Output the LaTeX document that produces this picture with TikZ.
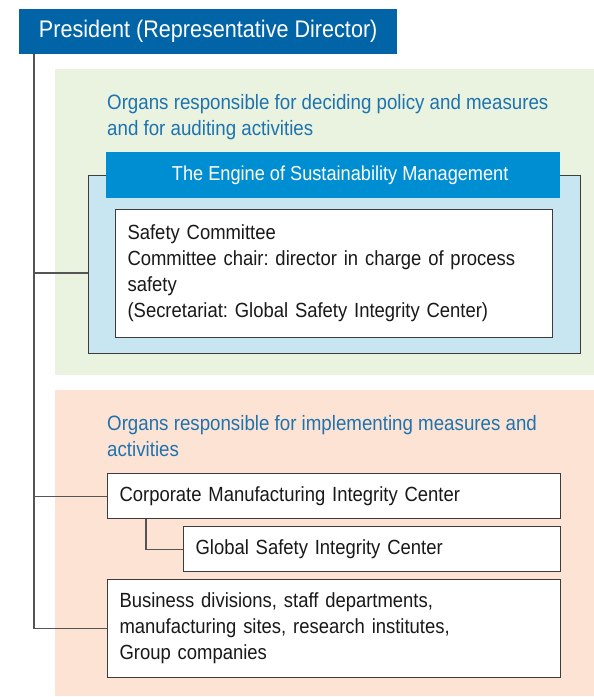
\documentclass[tikz,border=0pt]{standalone}
\usepackage{fontspec}
\setmainfont[FakeStretch=0.9]{Liberation Sans}
\usepackage{tikz}
\definecolor{presblue}{RGB}{0,100,166}
\definecolor{engblue}{RGB}{0,142,210}
\definecolor{framefill}{RGB}{200,230,242}
\definecolor{policyfill}{RGB}{233,243,223}
\definecolor{implfill}{RGB}{253,227,211}
\definecolor{headtext}{RGB}{30,115,175}
\definecolor{boxline}{RGB}{60,60,60}
\definecolor{linkgray}{RGB}{85,85,85}
\frenchspacing

\begin{document}
\begin{tikzpicture}[x=1pt, y=-1pt,
      pnl/.style={minimum width=539pt, minimum height=306pt,
                  inner sep=0pt, anchor=north west},
      box/.style={draw=boxline, line width=1.1pt, fill=white,
                  inner xsep=12pt, inner ysep=0pt, anchor=north west,
                  align=left, text=black!90,
                  font=\fontsize{20.5}{26}\selectfont},
      hdr/.style={inner sep=0pt, anchor=base west, align=left,
                  text=headtext, font=\fontsize{20.8}{26}\selectfont},
      link/.style={draw=linkgray, line width=1.1pt},
    ]
    \useasboundingbox (0,0) rectangle (594,697);
    %% background panels
    \node[pnl, fill=policyfill] (policy) at (55,69) {};
    \node[pnl, fill=implfill] (impl) at (55,390) {};
    %% panel headings (base = last line)
    \node[hdr] (polhead) at (107,135)
      {Organs responsible for deciding policy and measures\\and for auditing activities};
    \node[hdr] (implhead) at (107,456)
      {Organs responsible for implementing measures and\\activities};
    %% president
    \node[fill=presblue, text=white, anchor=north west, inner sep=0pt,
          minimum width=378pt, minimum height=45pt,
          font=\fontsize{24}{28}\selectfont] (pres) at (19,9)
      {President (Representative Director)};
    %% engine of sustainability management
    \node[draw=boxline, line width=1.1pt, fill=framefill, anchor=north west,
          minimum width=492pt, minimum height=178pt, inner sep=0pt]
      (frame) at (88,175) {};
    \node[fill=engblue, text=white, anchor=north west, inner sep=0pt,
          minimum width=454pt, minimum height=46pt,
          font=\fontsize{20.2}{26}\selectfont] (engine) at (106,152)
      {\hspace*{14pt}The Engine of Sustainability Management};
    \node[box, text width=413pt, minimum height=128pt] (safety) at (115,209)
      {Safety Committee\\Committee chair: director in charge of process\\safety\\(Secretariat: Global Safety Integrity Center)};
    %% implementing organs
    \node[box, text width=429pt, minimum height=45pt] (corp) at (107,473)
      {Corporate Manufacturing Integrity Center};
    \node[box, text width=353pt, minimum height=45pt] (gsic) at (183,526)
      {Global Safety Integrity Center};
    \node[box, text width=429pt, minimum height=98pt] (biz) at (107,579)
      {Business divisions, staff departments,\\manufacturing sites, research institutes,\\Group companies};
    %% connectors
    \coordinate (trunk) at ([xshift=15pt]pres.south west);
    \draw[link] (trunk) |- (biz.west);
    \draw[link] (trunk |- corp.west) -- (corp.west);
    \draw[link] (trunk |- 0,273) -- (frame.west |- 0,273);
    \draw[link] ([xshift=39pt]corp.south west) |- (gsic.west);
\end{tikzpicture}
\end{document}
